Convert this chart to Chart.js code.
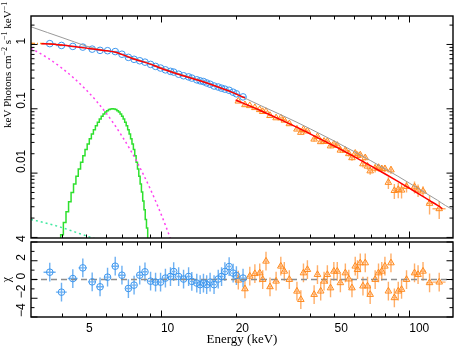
<!DOCTYPE html>
<html>
<head>
<meta charset="utf-8">
<script src="https://cdn.jsdelivr.net/npm/chart.js@4.4.1/dist/chart.umd.min.js"></script>
<style>
  html, body { margin: 0; padding: 0; background: #fff; }
  #wrap { position: relative; width: 458px; height: 354px; overflow: hidden; }
  #top { position: absolute; left: 0; top: 0; }
  #bot { position: absolute; left: 0; top: 222px; }
  #ytitle {
    position: absolute; left: 1px; top: 128px;
    transform-origin: 0 0; transform: rotate(-90deg);
    font: 11px "Liberation Serif", "Times New Roman", serif;
    line-height: 13px; white-space: nowrap; color: #000;
  }
  #ytitle sup { font-size: 8px; vertical-align: 4px; line-height: 0; }
</style>
</head>
<body>
<div id="wrap">
  <canvas id="top" width="458" height="243"></canvas>
  <canvas id="bot" width="458" height="132"></canvas>
  <div id="ytitle">keV Photons cm<sup>−2</sup> s<sup>−1</sup> keV<sup>−1</sup></div>
</div>
<script>
// ---------------------------------------------------------------------------
// axis ranges and ticks
// ---------------------------------------------------------------------------
const X_MIN = 3, X_MAX = 150;
const FLUX_MIN = 0.00098, FLUX_MAX = 2.77;
const CHI_MIN = -4, CHI_MAX = 4;

const xLabelTicks = [5, 10, 20, 50, 100];
const xMajorTicks = [10, 100];
const xMinorTicks = [4, 5, 6, 7, 8, 9, 20, 30, 40, 50, 60, 70, 80, 90];

const fluxMajorTicks = [0.001, 0.01, 0.1, 1];
const fluxMinorTicks = [0.002, 0.003, 0.004, 0.005, 0.006, 0.007, 0.008, 0.009,
  0.02, 0.03, 0.04, 0.05, 0.06, 0.07, 0.08, 0.09,
  0.2, 0.3, 0.4, 0.5, 0.6, 0.7, 0.8, 0.9, 2];
const fluxLabelValues = [1, 0.1, 0.01];
const fluxLabelText = ["1", "0.1", "0.01"];

const chiMajorTicks = [-4, -2, 0, 2, 4];
const chiMinorTicks = [-3, -1, 1, 3];
const chiLabelValues = [4, 2, 0, -2, -4];
const chiLabelText = ["4", "2", "0", "−2", "−4"];

// ---------------------------------------------------------------------------
// blue data set (3.5 - 21 keV)
// ---------------------------------------------------------------------------
const blueEnergy = [3.57, 3.98, 4.42, 4.85, 5.29, 5.69, 6.10, 6.55, 6.97, 7.40, 7.80, 8.22,
  8.63, 9.09, 9.52, 9.97, 10.43, 10.93, 11.26, 11.79, 12.34, 12.93, 13.32, 13.95, 14.39,
  14.84, 15.29, 15.78, 16.37, 17.02, 17.55, 18.10, 18.83, 19.54, 20.14, 21.42];
const blueBinHalf = [0.2, 0.2, 0.2, 0.19, 0.19, 0.19, 0.19, 0.2, 0.2, 0.2, 0.2, 0.2,
  0.2, 0.2, 0.2, 0.2, 0.21, 0.22, 0.2, 0.24, 0.25, 0.26, 0.25, 0.28, 0.27,
  0.28, 0.29, 0.3, 0.32, 0.32, 0.33, 0.35, 0.38, 0.38, 0.4, 0.55];
const blueFlux = [1.03, 0.965, 0.932, 0.91, 0.846, 0.81, 0.80, 0.775, 0.705, 0.63, 0.588, 0.558,
  0.531, 0.49, 0.456, 0.43, 0.403, 0.382, 0.372, 0.345, 0.326, 0.313, 0.30, 0.282, 0.272,
  0.265, 0.252, 0.241, 0.226, 0.218, 0.209, 0.202, 0.194, 0.181, 0.171, 0.153];
const blueChi = [0.78, -1.35, 0.1, 1.24, -0.25, -0.78, 0.25, 1.42, 0.46, -0.96, -0.6, 0.46,
  0.82, -0.18, -0.28, -0.28, 0.15, 0.32, 0.85, 0.32, 0.05, 0.32, -0.2, -0.38, -0.55,
  -0.38, -0.55, -0.28, -0.55, 0.05, 0.32, 0.85, 1.38, 0.68, 0.42, 0.15];

// ---------------------------------------------------------------------------
// orange data set (20 - 130 keV)
// ---------------------------------------------------------------------------
const orangeEnergy = [20.5, 21.8, 22.8, 23.9, 25.0, 25.7, 26.5, 27.5, 29.1, 30.4, 31.4, 32.9,
  35.3, 36.6, 37.5, 38.9, 41.4, 42.7, 44.0, 45.4, 46.8, 48.2, 49.7, 51.3, 52.8, 55.3, 57.1,
  58.8, 60.6, 61.9, 63.5, 65.1, 66.5, 67.9, 69.6, 72.9, 75.2, 77.5, 79.8, 82.4, 84.4, 87.1,
  90.3, 93.1, 97.5, 105, 108.5, 113.6, 120.7, 132];
const orangeBinHalf = [0.4, 0.4, 0.4, 0.4, 0.4, 0.4, 0.4, 0.5, 0.5, 0.6, 0.6, 0.7,
  0.6, 0.5, 0.5, 0.7, 0.7, 0.6, 0.6, 0.7, 0.7, 0.7, 0.8, 0.8, 0.8, 1.0, 0.9,
  0.9, 0.8, 0.8, 0.8, 0.8, 0.7, 0.8, 1.0, 1.2, 1.2, 1.2, 1.2, 1.2, 1.2, 1.5,
  1.6, 1.6, 2.2, 2.4, 2.0, 3.0, 3.5, 8];
const orangeFlux = [0.1314, 0.1154, 0.1116, 0.104, 0.0968, 0.0904, 0.0906, 0.0783, 0.0722, 0.0721, 0.0663, 0.0584,
  0.0482, 0.0429, 0.0474, 0.045, 0.0337, 0.0369, 0.0307, 0.0312, 0.031, 0.0264, 0.0282, 0.0269, 0.0227, 0.0226, 0.020,
  0.0173, 0.0203, 0.0188, 0.0191, 0.0139, 0.0173, 0.0128, 0.0108, 0.01188, 0.0122, 0.01166, 0.01168, 0.00716, 0.01118, 0.00535,
  0.00556, 0.00543, 0.00619, 0.0061, 0.00546, 0.00524, 0.00338, 0.00279];
const orangeFluxErr = [0.0040, 0.0036, 0.0033, 0.0031, 0.0028, 0.0027, 0.0026, 0.0024, 0.0022, 0.0034, 0.0032, 0.0029,
  0.0026, 0.0024, 0.0023, 0.0021, 0.0027, 0.0025, 0.0024, 0.0022, 0.0021, 0.0020, 0.0019, 0.0022, 0.0021, 0.0019, 0.0018,
  0.0017, 0.0019, 0.0018, 0.0018, 0.0017, 0.0016, 0.0015, 0.0014, 0.0017, 0.0016, 0.0015, 0.0014, 0.0015, 0.0015, 0.0014,
  0.0015, 0.0014, 0.0012, 0.0013, 0.0012, 0.0010, 0.0011, 0.00085];
const orangeChi = [-0.07, -1.0, 0.35, 0.62, 0.7, 0.0, 1.95, -0.78, -0.18, 1.42, 0.88, 0.0,
  -1.25, -2.14, 0.7, 1.06, -1.6, 0.53, -1.24, -0.18, 0.53, -0.9, 0.88, 0.88, -0.35, 0.7, 0.05,
  -0.9, 1.42, 1.06, 1.77, -0.7, 1.77, -0.7, -1.6, 0.0, 0.7, 0.88, 1.42, -1.24, 1.77, -1.95,
  -1.24, -1.06, 0.0, 0.7, 0.53, 0.88, -0.35, -0.28];

// ---------------------------------------------------------------------------
// model curves
// ---------------------------------------------------------------------------
const modelBlueEnergy = [3.3, 3.57, 4.0, 4.37, 4.78, 5.23, 5.63, 6.07, 6.58, 7.09, 7.63, 8.14,
  8.68, 9.18, 9.70, 10.45, 12.1, 14.16, 16.56, 19.18, 21.8];
const modelBlueFlux = [1.03, 1.018, 0.977, 0.94, 0.90, 0.857, 0.826, 0.796, 0.755, 0.682, 0.612, 0.562,
  0.522, 0.486, 0.447, 0.402, 0.333, 0.277, 0.226, 0.183, 0.148];

const modelOrangeEnergy = [20, 25, 30, 35, 40, 50, 60, 70, 80, 90, 100, 110, 120, 130, 136];
const modelOrangeFlux = [0.1372, 0.0948, 0.0689, 0.0522, 0.0405, 0.0262, 0.0180, 0.01298,
  0.00969, 0.00745, 0.00584, 0.00468, 0.0038, 0.00315, 0.00281];

const unabsEnergy = [3, 3.5, 4, 4.5, 5, 5.5, 6, 7, 8, 9, 10, 12, 15, 20, 25, 30, 35, 40, 50,
  60, 70, 80, 90, 100, 110, 120, 130, 140, 150];
const unabsFlux = [1.88, 1.53, 1.28, 1.09, 0.947, 0.86, 0.81, 0.70, 0.59, 0.51, 0.44, 0.345, 0.265, 0.17,
  0.114, 0.0827, 0.0626, 0.0486, 0.0314, 0.0216, 0.0156, 0.0116, 0.00894, 0.0070, 0.00562,
  0.00456, 0.00378, 0.00313, 0.0027];

const softEnergy = [3.0, 3.5, 4.0, 4.5, 5.0, 5.5, 6.0, 6.5, 7.0, 7.5, 8.0, 8.5, 9.0, 9.5, 10, 10.5, 11, 11.5];
const softFlux = [0.871, 0.617, 0.427, 0.292, 0.197, 0.132, 0.0871, 0.0569, 0.0367, 0.0237, 0.0151,
  0.00955, 0.00603, 0.00376, 0.00234, 0.00145, 0.00089, 0.00055];

const lineEnergy = [3.9, 4.0, 4.1, 4.2, 4.3, 4.4, 4.5, 4.6, 4.7, 4.8, 4.9, 5.0, 5.1, 5.2, 5.3, 5.4,
  5.5, 5.6, 5.7, 5.8, 5.9, 6.0, 6.1, 6.2, 6.3, 6.4, 6.5, 6.6, 6.7, 6.8, 6.9, 7.0, 7.1, 7.2,
  7.3, 7.4, 7.5, 7.6, 7.7, 7.8, 7.9, 8.0, 8.1, 8.2, 8.3, 8.4, 8.5, 8.6, 8.7, 8.8, 8.9];
const lineFlux = [0.0007, 0.0011, 0.0017, 0.0025, 0.0036, 0.0050, 0.0068, 0.0089, 0.0116, 0.0148, 0.0187,
  0.0232, 0.0284, 0.0341, 0.0406, 0.0474, 0.0546, 0.0620, 0.0694, 0.0764, 0.0830, 0.0888,
  0.0935, 0.0971, 0.0993, 0.1, 0.0993, 0.0971, 0.0935, 0.0888, 0.0830, 0.0764, 0.0694, 0.0620,
  0.0546, 0.0474, 0.0406, 0.0341, 0.0284, 0.0232, 0.0187, 0.0148, 0.0116, 0.0089, 0.0068,
  0.0051, 0.0037, 0.0027, 0.0019, 0.0014, 0.00094];

const faintEnergy = [3.0, 3.5, 4.0, 4.5, 5.0, 5.5];
const faintFlux = [0.0019, 0.00165, 0.00142, 0.00122, 0.00106, 0.00094];

const crossEnergy = [3.0, 3.5, 4.0];
const crossFlux = [1.04, 1.025, 0.98];

const zeroEnergy = [3, 150];
const zeroChi = [0, 0];

// ---------------------------------------------------------------------------
// helpers
// ---------------------------------------------------------------------------
const BLUE = "#3c96ee";
const BLUE_ERR = "rgba(60,150,238,0.75)";
const ORANGE = "#ff8a1e";
const ORANGE_ERR = "rgba(255,140,40,0.7)";
const SANS = '"Liberation Sans", Arial, Helvetica, sans-serif';
const SERIF = '"Liberation Serif", "Times New Roman", serif';

const pts = (xs, ys) => xs.map((x, i) => ({ x: x, y: ys[i] }));

function curve(xs, ys, color, extra) {
  return Object.assign({
    data: pts(xs, ys), showLine: true, borderColor: color, borderWidth: 1.5,
    pointRadius: 0, fill: false, cubicInterpolationMode: "monotone",
  }, extra || {});
}

function markers(xs, ys, color, style, r, err) {
  return Object.assign({
    data: pts(xs, ys), showLine: false, pointStyle: style, pointRadius: r,
    borderColor: color, backgroundColor: "rgba(0,0,0,0)", borderWidth: 1,
  }, err);
}

function drawErrorBars(chart) {
  const ctx = chart.ctx, a = chart.chartArea;
  const xs = chart.scales.x, ys = chart.scales.y;
  ctx.save();
  ctx.beginPath();
  ctx.rect(a.left, a.top, a.right - a.left, a.bottom - a.top);
  ctx.clip();
  chart.data.datasets.forEach((ds) => {
    if (!ds.errX) return;
    ctx.strokeStyle = ds.errColor;
    ctx.lineWidth = 1.4;
    ds.data.forEach((p, i) => {
      const ex = ds.errX[i];
      const ey = Array.isArray(ds.errY) ? ds.errY[i] : (ds.errY || 0);
      const px = xs.getPixelForValue(p.x), py = ys.getPixelForValue(p.y);
      ctx.beginPath();
      ctx.moveTo(xs.getPixelForValue(p.x - ex), py);
      ctx.lineTo(xs.getPixelForValue(p.x + ex), py);
      if (ey) {
        const lo = ys.type === "logarithmic" ? Math.max(p.y - ey, FLUX_MIN * 0.5) : p.y - ey;
        ctx.moveTo(px, ys.getPixelForValue(lo));
        ctx.lineTo(px, ys.getPixelForValue(p.y + ey));
      }
      ctx.stroke();
    });
  });
  ctx.restore();
}

// frame, inward ticks on all four sides, rotated y labels
const framePlugin = {
  id: "frame",
  beforeDatasetsDraw(chart) { drawErrorBars(chart); },
  afterDraw(chart, args, o) {
    const ctx = chart.ctx, a = chart.chartArea;
    const xs = chart.scales.x, ys = chart.scales.y;
    const MAJ = 6.5, MIN = 3.5;
    ctx.save();
    ctx.strokeStyle = "#000";
    ctx.lineWidth = 1;
    ctx.beginPath();
    const xt = (v, len) => {
      const p = Math.round(xs.getPixelForValue(v)) + 0.5;
      ctx.moveTo(p, a.bottom); ctx.lineTo(p, a.bottom - len);
      ctx.moveTo(p, a.top); ctx.lineTo(p, a.top + len);
    };
    const yt = (v, len) => {
      const p = ys.getPixelForValue(v);
      if (p < a.top - 0.5 || p > a.bottom + 0.5) return;
      ctx.moveTo(a.left, p); ctx.lineTo(a.left + len, p);
      ctx.moveTo(a.right, p); ctx.lineTo(a.right - len, p);
    };
    xMajorTicks.forEach((v) => xt(v, MAJ));
    xMinorTicks.forEach((v) => xt(v, MIN));
    o.yMajor.forEach((v) => yt(v, MAJ));
    o.yMinor.forEach((v) => yt(v, MIN));
    ctx.stroke();

    ctx.lineWidth = 1.4;
    ctx.strokeRect(a.left, a.top, a.right - a.left, a.bottom - a.top);

    ctx.fillStyle = "#000";
    ctx.font = "12px " + SANS;
    ctx.textAlign = "left";
    ctx.textBaseline = "middle";
    o.yLabels.forEach((v, i) => {
      const p = ys.getPixelForValue(v);
      ctx.save();
      ctx.translate(21.5, p);
      ctx.rotate(-Math.PI / 2);
      ctx.fillText(o.yText[i], 0, 0);
      ctx.restore();
    });
    ctx.restore();
  },
};

const hiddenAxis = { ticks: { display: false }, grid: { display: false }, border: { display: false } };

// ---------------------------------------------------------------------------
// upper panel: unfolded spectrum
// ---------------------------------------------------------------------------
new Chart(document.getElementById("top"), {
  type: "scatter",
  data: {
    datasets: [
      curve(modelBlueEnergy, modelBlueFlux, "#ff0000"),
      curve(modelOrangeEnergy, modelOrangeFlux, "#ff0000"),
      curve(unabsEnergy, unabsFlux, "#9a9a9a", { borderWidth: 1 }),
      curve(softEnergy, softFlux, "#ff40f0", { borderDash: [2, 3] }),
      curve(lineEnergy, lineFlux, "#2ee02e", { stepped: "middle", cubicInterpolationMode: "default" }),
      curve(faintEnergy, faintFlux, "#40e8a0", { borderDash: [2, 3] }),
      curve(crossEnergy, crossFlux, "#ff9a30", { borderDash: [4, 2, 1, 2] }),
      markers(blueEnergy, blueFlux, BLUE, "circle", 3.3,
        { errX: blueBinHalf, errY: 0, errColor: BLUE_ERR }),
      markers(orangeEnergy, orangeFlux, ORANGE, "triangle", 3.8,
        { errX: orangeBinHalf, errY: orangeFluxErr, errColor: ORANGE_ERR }),
    ],
  },
  options: {
    responsive: false, animation: false, events: [],
    layout: { padding: { top: 16, right: 1, bottom: 1, left: 0 } },
    plugins: {
      legend: { display: false }, tooltip: { enabled: false },
      frame: { yMajor: fluxMajorTicks, yMinor: fluxMinorTicks, yLabels: fluxLabelValues, yText: fluxLabelText },
    },
    scales: {
      x: Object.assign({ type: "logarithmic", min: X_MIN, max: X_MAX, afterFit: (s) => { s.height = 0; } }, hiddenAxis),
      y: Object.assign({ type: "logarithmic", min: FLUX_MIN, max: FLUX_MAX, afterFit: (s) => { s.width = 31; } }, hiddenAxis),
    },
  },
  plugins: [framePlugin],
});

// ---------------------------------------------------------------------------
// lower panel: residuals
// ---------------------------------------------------------------------------
new Chart(document.getElementById("bot"), {
  type: "scatter",
  data: {
    datasets: [
      markers(blueEnergy, blueChi, BLUE, "circle", 3.3,
        { errX: blueBinHalf, errY: 1, errColor: BLUE_ERR }),
      markers(orangeEnergy, orangeChi, ORANGE, "triangle", 3.8,
        { errX: orangeBinHalf, errY: 1, errColor: ORANGE_ERR }),
      curve(zeroEnergy, zeroChi, "#8c8c8c", { borderDash: [6, 4], borderWidth: 1.6, cubicInterpolationMode: "default" }),
    ],
  },
  options: {
    responsive: false, animation: false, events: [],
    layout: { padding: { top: 20, right: 1, bottom: 0, left: 0 } },
    plugins: {
      legend: { display: false }, tooltip: { enabled: false },
      frame: { yMajor: chiMajorTicks, yMinor: chiMinorTicks, yLabels: chiLabelValues, yText: chiLabelText },
    },
    scales: {
      x: {
        type: "logarithmic", min: X_MIN, max: X_MAX,
        afterBuildTicks: (s) => { s.ticks = xLabelTicks.map((v) => ({ value: v })); },
        ticks: {
          align: "start", padding: 4, color: "#000", autoSkip: false, maxRotation: 0,
          font: { family: SANS, size: 12 }, callback: (v) => String(v),
        },
        grid: { display: false, drawTicks: false }, border: { display: false },
        title: {
          display: true, text: "Energy (keV)", color: "#000",
          font: { family: SERIF, size: 13 }, padding: { top: 0, bottom: 7 },
        },
        afterFit: (s) => { s.height = 37; },
      },
      y: {
        min: CHI_MIN, max: CHI_MAX,
        ticks: { display: false }, grid: { display: false }, border: { display: false },
        title: {
          display: true, text: "χ", color: "#000",
          font: { family: SERIF, size: 12 }, padding: { top: 0, bottom: 0 },
        },
        afterFit: (s) => { s.width = 31; },
      },
    },
  },
  plugins: [framePlugin],
});
</script>
</body>
</html>
